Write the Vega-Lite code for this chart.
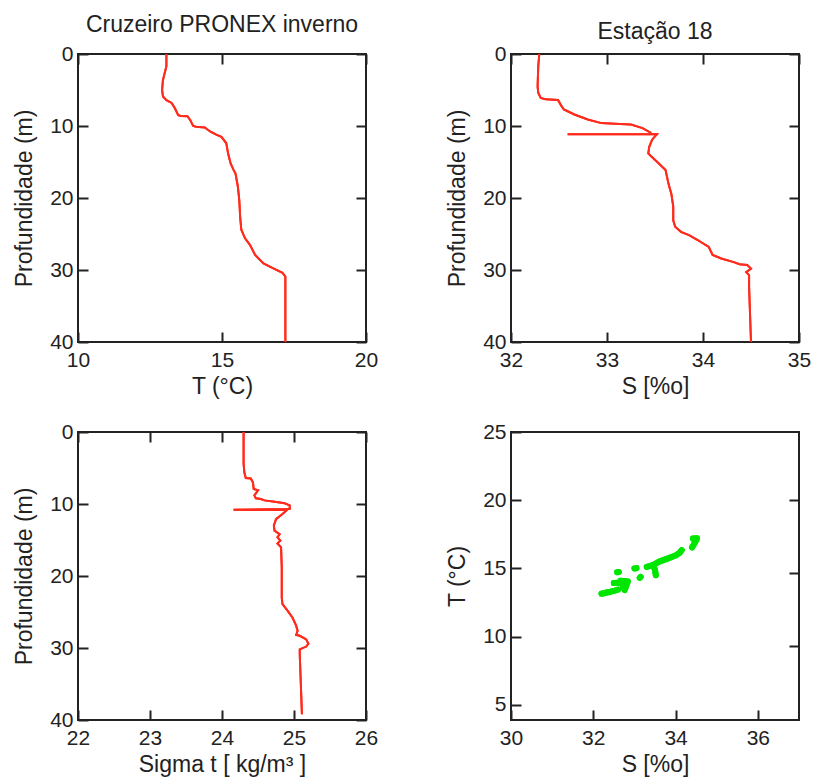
{
  "$schema": "https://vega.github.io/schema/vega-lite/v6.json",
  "padding": {"left": 12, "top": 13, "right": 0, "bottom": 0},
  "background": "white",
  "datasets": {
    "temp": [
      {"depth": 0, "T": 13.07}, {"depth": 1.7, "T": 13.07}, {"depth": 3.6, "T": 12.95}, {"depth": 5.0, "T": 12.92},
      {"depth": 5.9, "T": 12.95}, {"depth": 6.4, "T": 13.07}, {"depth": 6.8, "T": 13.25}, {"depth": 7.5, "T": 13.36},
      {"depth": 8.5, "T": 13.48}, {"depth": 8.6, "T": 13.57}, {"depth": 8.65, "T": 13.8}, {"depth": 9.2, "T": 13.9},
      {"depth": 10.0, "T": 14.0}, {"depth": 10.1, "T": 14.1}, {"depth": 10.2, "T": 14.4}, {"depth": 10.8, "T": 14.6},
      {"depth": 11.2, "T": 14.8}, {"depth": 11.5, "T": 14.98}, {"depth": 12.4, "T": 15.15}, {"depth": 13.8, "T": 15.21},
      {"depth": 15.2, "T": 15.3}, {"depth": 16.1, "T": 15.4}, {"depth": 16.6, "T": 15.47}, {"depth": 18.4, "T": 15.55},
      {"depth": 20.3, "T": 15.6}, {"depth": 22.6, "T": 15.63}, {"depth": 24.4, "T": 15.67}, {"depth": 25.6, "T": 15.8},
      {"depth": 26.5, "T": 15.97}, {"depth": 27.9, "T": 16.15}, {"depth": 29.1, "T": 16.44}, {"depth": 29.8, "T": 16.8},
      {"depth": 30.4, "T": 17.1}, {"depth": 30.9, "T": 17.2}, {"depth": 40, "T": 17.2}
    ],
    "sal": [
      {"depth": 0, "S": 32.295}, {"depth": 1.7, "S": 32.284}, {"depth": 4.5, "S": 32.277}, {"depth": 5.4, "S": 32.284},
      {"depth": 6.1, "S": 32.31}, {"depth": 6.3, "S": 32.36}, {"depth": 6.4, "S": 32.49}, {"depth": 7.1, "S": 32.52},
      {"depth": 7.7, "S": 32.55}, {"depth": 8.4, "S": 32.66}, {"depth": 9.1, "S": 32.8}, {"depth": 9.6, "S": 32.94},
      {"depth": 9.7, "S": 33.08}, {"depth": 9.8, "S": 33.25}, {"depth": 10.3, "S": 33.37}, {"depth": 10.9, "S": 33.45},
      {"depth": 11.1, "S": 33.46}, {"depth": 11.14, "S": 32.59}, {"depth": 11.15, "S": 33.52}, {"depth": 11.9, "S": 33.47},
      {"depth": 12.9, "S": 33.44}, {"depth": 13.8, "S": 33.43}, {"depth": 14.2, "S": 33.46}, {"depth": 15.2, "S": 33.54},
      {"depth": 16.1, "S": 33.61}, {"depth": 18.0, "S": 33.64}, {"depth": 19.4, "S": 33.67}, {"depth": 21.2, "S": 33.69},
      {"depth": 23.1, "S": 33.69}, {"depth": 24.0, "S": 33.71}, {"depth": 24.7, "S": 33.77}, {"depth": 25.2, "S": 33.86},
      {"depth": 25.8, "S": 33.94}, {"depth": 26.8, "S": 34.06}, {"depth": 27.9, "S": 34.1}, {"depth": 28.4, "S": 34.19},
      {"depth": 28.9, "S": 34.32}, {"depth": 29.2, "S": 34.38}, {"depth": 29.3, "S": 34.46}, {"depth": 29.8, "S": 34.5},
      {"depth": 30.3, "S": 34.45}, {"depth": 30.7, "S": 34.48}, {"depth": 32.3, "S": 34.48}, {"depth": 40, "S": 34.5}
    ],
    "sig": [
      {"depth": 0, "sigma": 24.3}, {"depth": 4.4, "sigma": 24.3}, {"depth": 5.6, "sigma": 24.31}, {"depth": 6.4, "sigma": 24.33},
      {"depth": 6.45, "sigma": 24.4}, {"depth": 7.0, "sigma": 24.43}, {"depth": 7.9, "sigma": 24.44}, {"depth": 8.1, "sigma": 24.5},
      {"depth": 8.8, "sigma": 24.45}, {"depth": 9.2, "sigma": 24.47}, {"depth": 9.3, "sigma": 24.54}, {"depth": 9.5, "sigma": 24.59},
      {"depth": 9.7, "sigma": 24.73}, {"depth": 9.9, "sigma": 24.87}, {"depth": 10.2, "sigma": 24.94}, {"depth": 10.7, "sigma": 24.94},
      {"depth": 10.8, "sigma": 24.16}, {"depth": 10.85, "sigma": 24.9}, {"depth": 11.4, "sigma": 24.84}, {"depth": 12.1, "sigma": 24.75},
      {"depth": 13.0, "sigma": 24.72}, {"depth": 13.7, "sigma": 24.73}, {"depth": 14.2, "sigma": 24.8}, {"depth": 14.6, "sigma": 24.77},
      {"depth": 15.1, "sigma": 24.81}, {"depth": 15.5, "sigma": 24.77}, {"depth": 16.0, "sigma": 24.82}, {"depth": 18.8, "sigma": 24.83},
      {"depth": 23.0, "sigma": 24.83}, {"depth": 23.9, "sigma": 24.84}, {"depth": 24.8, "sigma": 24.91}, {"depth": 25.8, "sigma": 24.98},
      {"depth": 26.9, "sigma": 25.03}, {"depth": 27.6, "sigma": 25.05}, {"depth": 28.2, "sigma": 25.03}, {"depth": 28.3, "sigma": 25.08},
      {"depth": 28.8, "sigma": 25.17}, {"depth": 29.4, "sigma": 25.2}, {"depth": 29.8, "sigma": 25.17}, {"depth": 30.2, "sigma": 25.08},
      {"depth": 30.9, "sigma": 25.08}, {"depth": 39.2, "sigma": 25.11}
    ],
    "ts": [
      {"seg": 1, "i": 1, "S": 32.2, "T": 13.15}, {"seg": 1, "i": 2, "S": 32.3, "T": 13.22}, {"seg": 1, "i": 3, "S": 32.42, "T": 13.3},
      {"seg": 1, "i": 4, "S": 32.52, "T": 13.38}, {"seg": 1, "i": 5, "S": 32.6, "T": 13.45},
      {"seg": 2, "i": 1, "S": 32.5, "T": 13.93}, {"seg": 2, "i": 2, "S": 32.62, "T": 13.95},
      {"seg": 3, "i": 1, "S": 32.58, "T": 14.72}, {"seg": 3, "i": 2, "S": 32.62, "T": 14.74},
      {"seg": 4, "i": 1, "S": 32.66, "T": 14.1}, {"seg": 4, "i": 2, "S": 32.84, "T": 14.05}, {"seg": 4, "i": 3, "S": 32.76, "T": 13.42},
      {"seg": 4, "i": 4, "S": 32.68, "T": 14.0}, {"seg": 4, "i": 5, "S": 32.8, "T": 14.0},
      {"seg": 5, "i": 1, "S": 33.0, "T": 15.0}, {"seg": 5, "i": 2, "S": 33.05, "T": 15.03},
      {"seg": 6, "i": 1, "S": 33.13, "T": 14.32}, {"seg": 6, "i": 2, "S": 33.15, "T": 14.38},
      {"seg": 7, "i": 1, "S": 33.3, "T": 15.12}, {"seg": 7, "i": 2, "S": 33.45, "T": 15.25}, {"seg": 7, "i": 3, "S": 33.6, "T": 15.5},
      {"seg": 7, "i": 4, "S": 33.8, "T": 15.72}, {"seg": 7, "i": 5, "S": 34.0, "T": 15.95}, {"seg": 7, "i": 6, "S": 34.1, "T": 16.15},
      {"seg": 7, "i": 7, "S": 34.15, "T": 16.35},
      {"seg": 8, "i": 1, "S": 33.45, "T": 15.25}, {"seg": 8, "i": 2, "S": 33.5, "T": 14.9}, {"seg": 8, "i": 3, "S": 33.52, "T": 14.5},
      {"seg": 9, "i": 1, "S": 34.42, "T": 17.2}, {"seg": 9, "i": 2, "S": 34.52, "T": 17.22}, {"seg": 9, "i": 3, "S": 34.5, "T": 17.05},
      {"seg": 9, "i": 4, "S": 34.45, "T": 16.8}, {"seg": 9, "i": 5, "S": 34.4, "T": 16.55}
    ]
  },
  "columns": 2,
  "bounds": "flush",
  "spacing": {"row": 90, "column": 145},
  "concat": [
    {
      "width": 288, "height": 288,
      "title": {"text": "Cruzeiro PRONEX inverno", "offset": 6, "frame": "group"},
      "data": {"name": "temp"},
      "layer": [
        {
          "mark": {"type": "line", "color": "#ff2b1c", "strokeWidth": 2},
          "encoding": {
            "x": {"field": "T", "type": "quantitative", "scale": {"domain": [10, 20], "nice": false, "zero": false},
                  "axis": {"orient": "bottom", "values": [10, 15, 20], "title": "T (°C)"}},
            "y": {"field": "depth", "type": "quantitative", "scale": {"domain": [0, 40], "nice": false, "reverse": true},
                  "axis": {"orient": "left", "values": [0, 10, 20, 30, 40], "title": "Profundidade (m)"}},
            "order": {"field": "depth"}
          }
        },
        {
          "mark": {"type": "line", "color": "#ff2b1c", "strokeWidth": 2},
          "encoding": {
            "x": {"field": "T", "type": "quantitative", "axis": {"orient": "top", "values": [10, 15, 20], "labels": false, "title": null}},
            "y": {"field": "depth", "type": "quantitative", "axis": {"orient": "right", "values": [0, 10, 20, 30, 40], "labels": false, "title": null}},
            "order": {"field": "depth"}
          }
        }
      ],
      "resolve": {"axis": {"x": "independent", "y": "independent"}}
    },
    {
      "width": 288, "height": 288,
      "title": {"text": "Estação 18", "offset": -1, "frame": "group"},
      "data": {"name": "sal"},
      "layer": [
        {
          "mark": {"type": "line", "color": "#ff2b1c", "strokeWidth": 2},
          "encoding": {
            "x": {"field": "S", "type": "quantitative", "scale": {"domain": [32, 35], "nice": false, "zero": false},
                  "axis": {"orient": "bottom", "values": [32, 33, 34, 35], "title": "S [%o]"}},
            "y": {"field": "depth", "type": "quantitative", "scale": {"domain": [0, 40], "nice": false, "reverse": true},
                  "axis": {"orient": "left", "values": [0, 10, 20, 30, 40], "title": "Profundidade (m)"}},
            "order": {"field": "depth"}
          }
        },
        {
          "mark": {"type": "line", "color": "#ff2b1c", "strokeWidth": 2},
          "encoding": {
            "x": {"field": "S", "type": "quantitative", "axis": {"orient": "top", "values": [32, 33, 34, 35], "labels": false, "title": null}},
            "y": {"field": "depth", "type": "quantitative", "axis": {"orient": "right", "values": [0, 10, 20, 30, 40], "labels": false, "title": null}},
            "order": {"field": "depth"}
          }
        }
      ],
      "resolve": {"axis": {"x": "independent", "y": "independent"}}
    },
    {
      "width": 288, "height": 288,
      "data": {"name": "sig"},
      "layer": [
        {
          "mark": {"type": "line", "color": "#ff2b1c", "strokeWidth": 2},
          "encoding": {
            "x": {"field": "sigma", "type": "quantitative", "scale": {"domain": [22, 26], "nice": false, "zero": false},
                  "axis": {"orient": "bottom", "values": [22, 23, 24, 25, 26], "title": "Sigma t [ kg/m³ ]"}},
            "y": {"field": "depth", "type": "quantitative", "scale": {"domain": [0, 40], "nice": false, "reverse": true},
                  "axis": {"orient": "left", "values": [0, 10, 20, 30, 40], "title": "Profundidade (m)"}},
            "order": {"field": "depth"}
          }
        },
        {
          "mark": {"type": "line", "color": "#ff2b1c", "strokeWidth": 2},
          "encoding": {
            "x": {"field": "sigma", "type": "quantitative", "axis": {"orient": "top", "values": [22, 23, 24, 25, 26], "labels": false, "title": null}},
            "y": {"field": "depth", "type": "quantitative", "axis": {"orient": "right", "values": [0, 10, 20, 30, 40], "labels": false, "title": null}},
            "order": {"field": "depth"}
          }
        }
      ],
      "resolve": {"axis": {"x": "independent", "y": "independent"}}
    },
    {
      "width": 288, "height": 288,
      "data": {"name": "ts"},
      "layer": [
        {
          "mark": {"type": "line", "color": "#00e600", "strokeWidth": 6, "strokeCap": "round", "strokeJoin": "round"},
          "encoding": {
            "x": {"field": "S", "type": "quantitative", "scale": {"domain": [30, 37], "nice": false, "zero": false},
                  "axis": {"orient": "bottom", "values": [30, 32, 34, 36], "title": "S [%o]"}},
            "y": {"field": "T", "type": "quantitative", "scale": {"domain": [3.9, 25], "nice": false, "zero": false},
                  "axis": {"orient": "left", "values": [5, 10, 15, 20, 25], "title": "T (°C)"}},
            "detail": {"field": "seg"},
            "order": {"field": "i"}
          }
        },
        {
          "mark": {"type": "line", "color": "#00e600", "strokeWidth": 6, "strokeCap": "round", "strokeJoin": "round"},
          "encoding": {
            "x": {"field": "S", "type": "quantitative",
                  "axis": {"orient": "bottom", "values": [30, 32, 34, 36], "title": "S [%o]"}},
            "y": {"field": "T", "type": "quantitative", "axis": {"orient": "right", "values": [9.3, 14.65, 20], "labels": false, "title": null}},
            "detail": {"field": "seg"},
            "order": {"field": "i"}
          }
        }
      ],
      "resolve": {"axis": {"y": "independent"}}
    }
  ],
  "config": {
    "font": "Liberation Sans",
    "view": {"stroke": "#222", "strokeWidth": 2},
    "title": {"fontSize": 23, "fontWeight": "normal", "color": "#222", "font": "Liberation Sans"},
    "axis": {
      "domain": false, "grid": false, "tickSize": -10, "tickWidth": 2, "tickColor": "#222",
      "labelFont": "Liberation Sans", "labelFontSize": 21, "labelColor": "#222",
      "labelFlush": false, "labelOverlap": false,
      "titleFont": "Liberation Sans", "titleFontSize": 23, "titleFontWeight": "normal", "titleColor": "#222"
    },
    "axisX": {"labelPadding": 17, "titlePadding": 5},
    "axisY": {"labelPadding": 15, "titlePadding": 13}
  }
}
